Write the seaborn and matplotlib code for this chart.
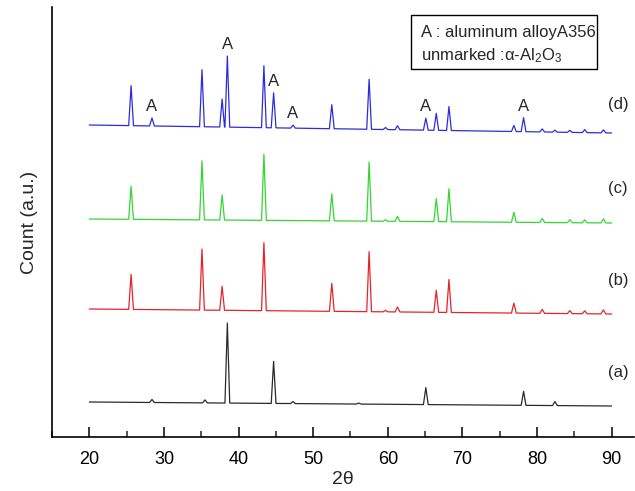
import numpy as np
import pandas as pd
import matplotlib
matplotlib.use("Agg")
import matplotlib.pyplot as plt
from matplotlib.patches import Rectangle
from matplotlib.ticker import MultipleLocator
import seaborn as sns

# ---------------- data ----------------
samples = ["(a)", "(b)", "(c)", "(d)"]
line_colors = ["#2a2a2a", "#e4242c", "#33d633", "#2c2cdc"]

# background level of each stacked pattern at 2θ = 20 and 2θ = 90 (a.u.)
bg_start = [35, 128, 218, 312]
bg_end = [31, 123, 214, 304]

# (a) aluminum alloy A356
peaks_a_pos = [28.4, 35.5, 38.5, 44.7, 47.3, 56.1, 65.1, 78.2, 82.4]
peaks_a_int = [3, 3, 80, 42, 2, 1, 17, 14, 4]

# α-Al2O3 reflections (b), (c)
alumina_pos = [25.6, 35.1, 37.8, 43.4, 52.5, 57.5, 59.7, 61.3, 66.5, 68.2,
               76.9, 80.7, 84.4, 86.4, 88.9]
peaks_b_int = [35, 61, 24, 68, 28, 60, 1.5, 5, 22, 33, 10, 4, 3, 3, 4]
peaks_c_int = [33, 59, 25, 66, 27, 59, 1.5, 5, 23, 33, 10, 4, 3, 3, 4]

# (d) composite
peaks_d_pos = [25.6, 28.4, 35.1, 37.8, 38.5, 43.4, 44.7, 47.3, 52.5, 57.5,
               59.7, 61.3, 65.1, 66.5, 68.2, 76.9, 78.2, 80.7, 82.4, 84.4,
               86.4, 88.9]
peaks_d_int = [40, 8, 57, 28, 71, 62, 35, 3, 24, 50, 2, 4, 12, 17, 24, 6,
               14, 3, 2, 2, 3, 3]

# peaks of (d) marked "A"
al_marked = [28.4, 38.5, 44.7, 47.3, 65.1, 78.2]

x_ticks = [20, 30, 40, 50, 60, 70, 80, 90]
scan_start, scan_end = 20.0, 90.0

# ---------------- build long-form table ----------------
peak_pos = [peaks_a_pos, alumina_pos, alumina_pos, peaks_d_pos]
peak_int = [peaks_a_int, peaks_b_int, peaks_c_int, peaks_d_int]
HW = 0.32

rows = []
for s, pos, inten, b0, b1 in zip(samples, peak_pos, peak_int, bg_start, bg_end):
    def base(x, b0=b0, b1=b1):
        return b0 + (b1 - b0) * (x - scan_start) / (scan_end - scan_start)
    order = 0
    rows.append((s, order, scan_start, base(scan_start)))
    for p, h in sorted(zip(pos, inten)):
        for x, y in ((p - HW, base(p - HW)), (p, base(p) + h), (p + HW, base(p + HW))):
            order += 1
            rows.append((s, order, x, y))
    rows.append((s, order + 1, scan_end, base(scan_end)))
df = pd.DataFrame(rows, columns=["sample", "order", "two_theta", "count"])

# ---------------- plot ----------------
sns.set_style("ticks")
plt.rcParams["font.family"] = ["Liberation Sans", "DejaVu Sans"]
plt.rcParams["mathtext.fontset"] = "custom"
plt.rcParams["mathtext.rm"] = "Liberation Sans"
plt.rcParams["mathtext.it"] = "Liberation Sans:italic"

fig = plt.figure(figsize=(6.35, 4.91), dpi=100)
ax = fig.add_axes([52 / 635, 54 / 491, 582 / 635, 430 / 491])

sns.lineplot(data=df, x="two_theta", y="count", hue="sample",
             palette=dict(zip(samples, line_colors)), units="sample",
             estimator=None, sort=False, legend=False, linewidth=0.9, ax=ax)

ax.set_xlim(15, 93)
ax.set_ylim(0, 430)
ax.set_xticks(x_ticks)
ax.xaxis.set_minor_locator(MultipleLocator(5))
ax.set_yticks([])
ax.tick_params(axis="x", which="major", direction="in", length=7, width=1.1,
               labelsize=13, pad=10, colors="black")
ax.tick_params(axis="x", which="minor", direction="in", length=4, width=1.1)
for side in ["top", "right"]:
    ax.spines[side].set_visible(False)
for side in ["left", "bottom"]:
    ax.spines[side].set_linewidth(1.2)
    ax.spines[side].set_color("black")

ax.set_xlabel("2θ", fontsize=14, labelpad=2)
ax.set_ylabel("Count (a.u.)", fontsize=14, labelpad=10)

# sample labels
label_y_gap = [34, 33, 34, 29]
for s, b1, g in zip(samples, bg_end, label_y_gap):
    ax.text(89.5, b1 + g, s, fontsize=12, ha="left", va="center")

# "A" markers above the aluminum peaks of (d)
d_base0, d_base1 = bg_start[3], bg_end[3]
for p in al_marked:
    h = peaks_d_int[peaks_d_pos.index(p)]
    b = d_base0 + (d_base1 - d_base0) * (p - scan_start) / (scan_end - scan_start)
    ax.text(p, b + h + 4, "A", fontsize=12, ha="center", va="bottom")

# key box
ax.add_patch(Rectangle((0.617, 0.856), 0.319, 0.125, transform=ax.transAxes,
                       fill=False, edgecolor="black", linewidth=1.0, clip_on=False))
ax.text(0.634, 0.940, "A : aluminum alloyA356", transform=ax.transAxes,
        fontsize=12, ha="left", va="center")
ax.text(0.634, 0.888, "unmarked :α-Al$_2$O$_3$", transform=ax.transAxes,
        fontsize=12, ha="left", va="center")

fig.savefig("out.png", dpi=100)
